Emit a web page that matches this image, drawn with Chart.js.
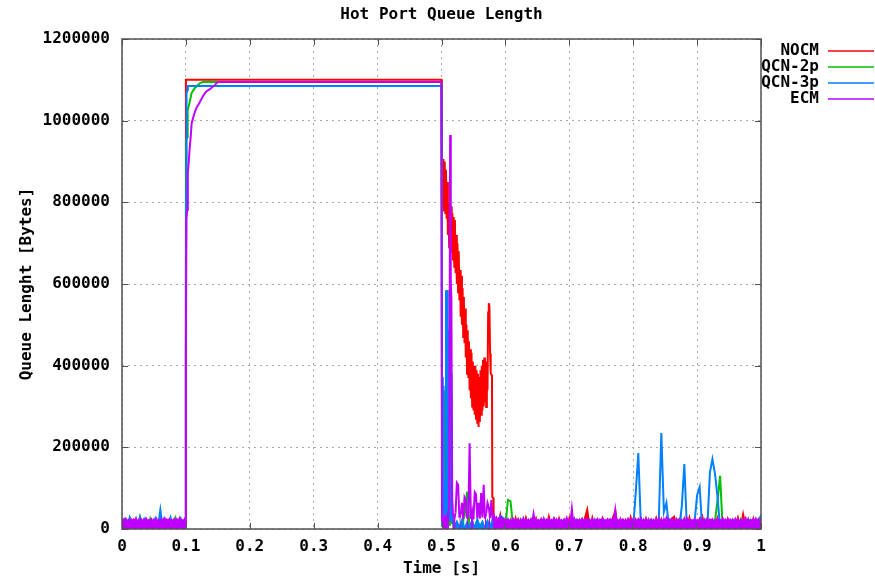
<!DOCTYPE html>
<html>
<head>
<meta charset="utf-8">
<script src="https://cdn.jsdelivr.net/npm/chart.js@4/dist/chart.umd.min.js"></script>
<style>
  body { margin: 0; background: #fff; }
</style>
</head>
<body>
<canvas id="queueChart" width="875" height="578"></canvas>
<script>
// values are in kB (x 1000 bytes)
const KB = 1000;
const chartTitle = "Hot Port Queue Length";
const seriesNames = ["NOCM", "QCN-2p", "QCN-3p", "ECM"];
const seriesColors = ["#ff0000", "#00c000", "#0080ff", "#c000ff"];

const xTickValues = [0, 0.1, 0.2, 0.3, 0.4, 0.5, 0.6, 0.7, 0.8, 0.9, 1];
const yTickValues = [0, 200000, 400000, 600000, 800000, 1000000, 1200000];

// NOCM
const nocmHeadStep = 0.004;
const nocmHead = [2,10,1,8,3,11,0,9,2,12, 1,7,3,10,0,9,2,11,1,8, 3,10,0,12,2];
const nocmBurst = [
  [0.0995, 5], [0.1, 1100], [0.5, 1100], [0.5005, 810], [0.501, 900], [0.5015, 790],
  [0.502, 880], [0.5025, 800], [0.503, 906], [0.504, 780], [0.505, 900], [0.506, 774],
  [0.507, 880], [0.508, 760], [0.509, 850], [0.51, 720], [0.511, 800], [0.512, 690],
  [0.513, 798], [0.514, 680], [0.515, 790], [0.516, 676], [0.517, 774], [0.518, 660],
  [0.519, 764], [0.52, 642], [0.521, 757], [0.522, 627], [0.523, 720], [0.524, 600],
  [0.525, 700], [0.526, 580], [0.527, 680], [0.528, 560], [0.529, 634], [0.53, 520],
  [0.531, 620], [0.532, 500], [0.533, 590], [0.534, 470], [0.535, 568], [0.536, 455],
  [0.537, 540], [0.538, 420], [0.539, 500], [0.54, 380], [0.541, 487], [0.542, 372],
  [0.543, 460], [0.544, 340], [0.545, 440], [0.546, 320], [0.547, 431], [0.548, 300],
  [0.549, 410], [0.55, 290], [0.551, 400], [0.552, 280], [0.553, 400], [0.554, 270],
  [0.555, 389], [0.556, 260], [0.557, 380], [0.558, 250], [0.559, 372], [0.56, 262],
  [0.561, 389], [0.562, 280], [0.563, 400], [0.564, 290], [0.565, 414], [0.566, 300],
  [0.567, 420], [0.568, 310], [0.569, 400], [0.57, 299], [0.571, 410], [0.572, 340],
  [0.573, 530], [0.574, 553], [0.575, 545], [0.576, 430], [0.577, 382], [0.578, 378],
  [0.579, 375], [0.5795, 78], [0.581, 76], [0.5815, 20]
];
const nocmTailStart = 0.584;
const nocmTailStep = 0.004;
const nocmTail = [
  18,3,34,1,24,4,21,0,26,2,22,5,27,1,20,3,25,0,23,4,
  2,30,3,22,0,25,5,20,2,26,1,23,4,21,3,24,47,2,27,0,
  22,5,25,1,20,3,26,44,0,23,4,21,2,28,1,22,5,24,0,25,
  3,21,1,26,4,23,0,20,2,25,30,5,22,1,24,3,27,0,21,4,
  23,32,2,25,5,20,1,26,3,22,0,24,4,21,2,27,1,36,5,23,
  0,25,3,22,2
];

// QCN-2p
const qcn2HeadStep = 0.004;
const qcn2Head = [3,21,1,27,4,19,2,29,0,22, 5,25,1,20,3,28,2,18,4,24, 0,26,3,21,1];
const qcn2Burst = [
  [0.0995, 8], [0.1, 400], [0.1005, 953], [0.102, 960], [0.1025, 1000], [0.103, 1026],
  [0.106, 1046], [0.109, 1068], [0.114, 1080], [0.122, 1092], [0.127, 1095], [0.5, 1095],
  [0.501, 6], [0.5015, 12], [0.502, 336], [0.5025, 20], [0.503, 300], [0.5035, 15],
  [0.504, 340], [0.5045, 30], [0.505, 210], [0.506, 25], [0.508, 8], [0.51, 30],
  [0.512, 10], [0.513, 348], [0.5135, 20], [0.514, 300], [0.5145, 12], [0.515, 330],
  [0.5155, 40], [0.516, 176], [0.517, 12], [0.518, 20]
];
const qcn2TailStart = 0.52;
const qcn2TailStep = 0.004;
const qcn2Tail = [
  4,16,2,20,30,91,3,18,1,22,5,17,0,19,3,21,2,15,4,20,
  8,71,68,5,18,1,21,3,16,0,19,4,22,2,17,5,20,1,18,3,
  21,0,16,4,19,2,22,1,17,3,20,5,15,0,18,2,21,4,16,1,
  19,3,22,0,17,5,20,2,18,1,21,4,16,3,19,0,22,2,17,5,
  20,1,18,3,21,0,16,4,19,2,22,1,17,5,20,3,18,0,21,2,
  16,4,19,70,130,3,17,1,20,5,18,2,22,0,16,3,21,4,19,1,
  18
];

// QCN-3p
const qcn3HeadStep = 0.004;
const qcn3Head = [5,21,2,26,0,19,4,28,1,23, 3,18,6,25,2,47,0,22,5,27, 1,20,3,24,2];
const qcn3Burst = [
  [0.0985, 12], [0.0995, 4], [0.1, 600], [0.1005, 830], [0.101, 1068], [0.1025, 1075],
  [0.103, 1085], [0.5, 1085], [0.501, 8], [0.5015, 15], [0.502, 372], [0.5025, 20],
  [0.503, 350], [0.5035, 18], [0.504, 120], [0.505, 25], [0.506, 40], [0.5065, 20],
  [0.507, 585], [0.5075, 30], [0.508, 560], [0.5085, 25], [0.509, 585], [0.5095, 40],
  [0.51, 500], [0.5105, 30], [0.511, 487], [0.5115, 22], [0.512, 470], [0.5125, 35],
  [0.513, 462], [0.5135, 20], [0.514, 440], [0.5145, 28], [0.515, 382], [0.5155, 18],
  [0.516, 370], [0.517, 30], [0.518, 15]
];
const qcn3TailStart = 0.52;
const qcn3TailStep = 0.004;
const qcn3Tail = [
  5,18,2,21,0,16,4,20,1,23,3,17,0,19,5,22,2,15,32,28,
  3,20,1,17,4,22,0,18,2,21,5,16,3,19,1,24,0,17,4,20,
  2,18,5,21,0,16,3,23,1,19,4,17,2,20,0,22,5,15,3,18,
  1,21,4,17,0,20,2,19,5,16,3,89,186,10,22,1,18,4,20,0,
  17,235,42,64,3,19,0,22,4,54,159,2,18,5,16,83,103,1,20,3,
  138,171,135,78,2,19,4,17,0,21,3,18,5,16,1,22,2,20,4,17,
  34
];

// ECM
const ecmHeadStep = 0.002;
const ecmHead = [
  18,23,17,25,19,22,17,24,20,23, 18,26,17,22,19,24,18,23,17,25,
  19,22,20,24,18,23,19,25,17,21, 18,24,19,26,17,23,20,24,18,22,
  19,25,17,23,18,26,17,22,19,24
];
const ecmBurst = [
  [0.0995, 6], [0.1, 426], [0.1008, 760], [0.102, 781], [0.103, 872], [0.1045, 900],
  [0.106, 935], [0.1075, 960], [0.109, 994], [0.111, 1005], [0.1125, 1014], [0.115, 1025],
  [0.117, 1033], [0.12, 1040], [0.122, 1046], [0.126, 1058], [0.13, 1068], [0.134, 1074],
  [0.1375, 1077], [0.142, 1083], [0.145, 1087], [0.15, 1095], [0.5, 1095], [0.5008, 18],
  [0.502, 30], [0.504, 12], [0.506, 28], [0.508, 16], [0.51, 35], [0.512, 52],
  [0.5135, 965], [0.5145, 610], [0.5155, 560], [0.5165, 70], [0.518, 34]
];
const ecmTailStart = 0.52;
const ecmTailStep = 0.002;
const ecmTail = [
  26,40,113,108,28,35,64,24,78,71,26,33,210,25,45,24,90,85,27,64,
  25,88,28,108,26,38,64,54,27,71,24,33,22,28,20,26,19,27,18,24,
  23,18,24,19,22,17,25,20,23,18,24,19,22,17,26,18,23,20,22,19,
  24,17,37,19,23,20,22,18,24,19,25,17,23,20,24,18,22,19,26,18,
  23,17,24,20,22,18,23,19,27,18,22,19,49,17,24,18,23,20,22,19,
  25,18,23,17,24,19,22,18,24,17,22,20,24,17,23,19,26,18,22,20,
  24,17,23,19,25,17,45,18,22,20,24,17,23,19,22,17,25,19,23,18,
  24,20,22,17,24,19,26,17,22,19,24,18,23,17,23,20,22,18,24,17,
  25,18,22,19,24,17,27,19,23,17,24,20,22,18,24,17,23,19,22,18,
  24,17,26,18,23,20,22,17,24,19,22,17,25,19,23,18,22,17,25,19,
  23,20,24,17,22,18,25,19,22,17,26,19,23,17,24,18,23,20,22,17,
  25,19,23,17,22,19,24,18,26,17,23,20,22,19,24,17,25,18,23,19,
  22
];

function buildPoints(head, headStep, burst, tail, tailStart, tailStep) {
  const pts = head.map((v, i) => ({ x: i * headStep, y: v * KB }));
  burst.forEach(([t, v]) => pts.push({ x: t, y: v * KB }));
  tail.forEach((v, i) => pts.push({ x: tailStart + i * tailStep, y: v * KB }));
  return pts;
}

const seriesPoints = [
  buildPoints(nocmHead, nocmHeadStep, nocmBurst, nocmTail, nocmTailStart, nocmTailStep),
  buildPoints(qcn2Head, qcn2HeadStep, qcn2Burst, qcn2Tail, qcn2TailStart, qcn2TailStep),
  buildPoints(qcn3Head, qcn3HeadStep, qcn3Burst, qcn3Tail, qcn3TailStart, qcn3TailStep),
  buildPoints(ecmHead, ecmHeadStep, ecmBurst, ecmTail, ecmTailStart, ecmTailStep)
];

const FONT = '"DejaVu Sans Mono", "Liberation Mono", monospace';
// below this the dense sampling reads as a solid band, so shade under it
const NOISE_LEVEL = 60000;

// white background, gnuplot style frame with inward ticks, title and key
const gnuplotFrame = {
  id: "gnuplotFrame",
  beforeDraw(chart) {
    const { ctx } = chart;
    ctx.save();
    ctx.fillStyle = "#fff";
    ctx.fillRect(0, 0, chart.width, chart.height);
    ctx.restore();
  },
  afterDraw(chart) {
    const { ctx, chartArea: a, scales } = chart;
    ctx.save();
    ctx.strokeStyle = "#505050";
    ctx.lineWidth = 1;
    ctx.beginPath();
    xTickValues.forEach(v => {
      const px = Math.round(scales.x.getPixelForValue(v)) + 0.5;
      ctx.moveTo(px, a.bottom); ctx.lineTo(px, a.bottom - 6);
      ctx.moveTo(px, a.top); ctx.lineTo(px, a.top + 6);
    });
    yTickValues.forEach(v => {
      const py = Math.round(scales.y.getPixelForValue(v)) + 0.5;
      ctx.moveTo(a.left, py); ctx.lineTo(a.left + 6, py);
      ctx.moveTo(a.right, py); ctx.lineTo(a.right - 6, py);
    });
    ctx.stroke();
    ctx.lineWidth = 1.5;
    ctx.strokeRect(a.left, a.top, a.right - a.left, a.bottom - a.top);

    ctx.font = "bold 16px " + FONT;
    ctx.fillStyle = "#000";
    ctx.textAlign = "center";
    ctx.textBaseline = "middle";
    ctx.fillText(chartTitle, (a.left + a.right) / 2, 15);

    ctx.textAlign = "right";
    seriesNames.forEach((name, i) => {
      const y = 51 + i * 16;
      ctx.fillStyle = "#000";
      ctx.fillText(name, 819, y);
      ctx.strokeStyle = seriesColors[i];
      ctx.lineWidth = 1.5;
      ctx.beginPath();
      ctx.moveTo(828, y);
      ctx.lineTo(874, y);
      ctx.stroke();
    });
    ctx.restore();
  }
};

new Chart(document.getElementById("queueChart"), {
  type: "line",
  data: {
    datasets: seriesNames.map((name, i) => ({
      label: name,
      data: seriesPoints[i],
      borderColor: seriesColors[i],
      backgroundColor: seriesColors[i],
      borderWidth: 2,
      pointRadius: 0,
      tension: 0,
      fill: "origin",
      segment: {
        backgroundColor: c => (c.p0.parsed.y < NOISE_LEVEL && c.p1.parsed.y < NOISE_LEVEL)
          ? seriesColors[i] : "rgba(0,0,0,0)"
      },
      order: seriesNames.length - 1 - i
    }))
  },
  options: {
    responsive: false,
    animation: false,
    parsing: false,
    normalized: true,
    layout: { padding: { left: 0, right: 114, top: 39, bottom: 0 } },
    plugins: {
      legend: { display: false },
      tooltip: { enabled: false },
      title: { display: false }
    },
    scales: {
      x: {
        type: "linear",
        min: 0,
        max: 1,
        afterFit(scale) { scale.height = 49; },
        afterBuildTicks(scale) { scale.ticks = xTickValues.map(value => ({ value })); },
        grid: { color: "#a8a8a8", lineWidth: 1, drawTicks: false },
        border: { display: false, dash: [2, 4] },
        ticks: {
          color: "#000",
          font: { family: FONT, size: 16, weight: "bold" },
          padding: 8,
          maxRotation: 0,
          autoSkip: false,
          callback: v => String(v)
        },
        title: {
          display: true,
          text: "Time [s]",
          color: "#000",
          font: { family: FONT, size: 16, weight: "bold", lineHeight: 1 },
          padding: { top: 0, bottom: 1 }
        }
      },
      y: {
        min: 0,
        max: 1200000,
        afterFit(scale) { scale.width = 122; },
        afterBuildTicks(scale) { scale.ticks = yTickValues.map(value => ({ value })); },
        grid: { color: "#a8a8a8", lineWidth: 1, drawTicks: false },
        border: { display: false, dash: [2, 4] },
        ticks: {
          color: "#000",
          font: { family: FONT, size: 16, weight: "bold" },
          padding: 12,
          autoSkip: false,
          callback: v => String(v)
        },
        title: {
          display: true,
          text: "Queue Lenght [Bytes]",
          color: "#000",
          font: { family: FONT, size: 16, weight: "bold" },
          padding: { top: 17, bottom: 0 }
        }
      }
    }
  },
  plugins: [gnuplotFrame]
});
</script>
</body>
</html>
